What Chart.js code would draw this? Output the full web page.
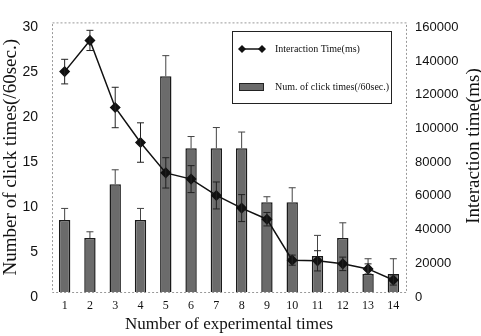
<!DOCTYPE html>
<html>
<head>
<meta charset="utf-8">
<script src="https://cdn.jsdelivr.net/npm/chart.js@4"></script>
<style>
  body { margin: 0; background: #fff; }
  canvas { display: block; }
</style>
</head>
<body>
<canvas id="chart" width="481" height="336"></canvas>
<script>
// data
const experiments = ['1', '2', '3', '4', '5', '6', '7', '8', '9', '10', '11', '12', '13', '14'];
const clickTimes = [8, 6, 12, 8, 24, 16, 16, 16, 10, 10, 4, 6, 2, 2];
const clickErr = [1.3, 0.7, 1.6, 1.3, 2.3, 1.3, 2.3, 1.8, 0.6, 1.6, 2.3, 1.7, 1.7, 1.7];
const interactionTime = [130800, 149300, 109500, 88700, 70700, 67000, 57300, 49800, 43200, 18900, 18500, 16700, 13700, 7100];
const interactionErr = [7300, 6000, 12000, 11700, 9000, 8000, 8000, 8000, 4000, 3000, 6000, 4000, 3000, 3000];
const clickTicks = [0, 5, 10, 15, 20, 25, 30];
const timeTicks = [0, 20000, 40000, 60000, 80000, 100000, 120000, 140000, 160000];

const serif = '"Liberation Serif", "DejaVu Serif", serif';
const sans = '"Liberation Sans", Arial, sans-serif';

// frame, error bars, legend box and right-hand title
const extras = {
  id: 'extras',
  afterDatasetsDraw(chart) {
    const ctx = chart.ctx;
    const x = chart.scales.x;
    const yL = chart.scales.y;
    const yR = chart.scales.y1;

    ctx.save();
    // bar whiskers (upper only)
    ctx.strokeStyle = '#444';
    ctx.lineWidth = 1;
    clickTimes.forEach((v, i) => {
      const px = x.getPixelForValue(i);
      const top = yL.getPixelForValue(v + clickErr[i]);
      const base = yL.getPixelForValue(v);
      ctx.beginPath();
      ctx.moveTo(px, base);
      ctx.lineTo(px, top);
      ctx.moveTo(px - 3.5, top);
      ctx.lineTo(px + 3.5, top);
      ctx.stroke();
    });
    // line whiskers
    ctx.strokeStyle = '#222';
    interactionTime.forEach((v, i) => {
      const px = x.getPixelForValue(i);
      const hi = yR.getPixelForValue(v + interactionErr[i]);
      const lo = yR.getPixelForValue(v - interactionErr[i]);
      ctx.beginPath();
      ctx.moveTo(px, hi);
      ctx.lineTo(px, lo);
      ctx.moveTo(px - 3.5, hi);
      ctx.lineTo(px + 3.5, hi);
      ctx.moveTo(px - 3.5, lo);
      ctx.lineTo(px + 3.5, lo);
      ctx.stroke();
    });
    ctx.restore();
  },
  afterDraw(chart) {
    const ctx = chart.ctx;
    const a = chart.chartArea;
    ctx.save();
    // dotted frame
    ctx.strokeStyle = '#999';
    ctx.lineWidth = 1;
    ctx.setLineDash([2, 2]);
    ctx.strokeRect(a.left + 0.5, a.top + 0.5, a.right - a.left, a.bottom - a.top);
    ctx.setLineDash([]);

    // legend
    const lx = 232, ly = 31, lw = 159, lh = 72;
    ctx.fillStyle = '#fff';
    ctx.fillRect(lx, ly, lw, lh);
    ctx.strokeStyle = '#222';
    ctx.strokeRect(lx + 0.5, ly + 0.5, lw, lh);

    const r1 = ly + 18;
    ctx.strokeStyle = '#111';
    ctx.lineWidth = 1.5;
    ctx.beginPath();
    ctx.moveTo(242, r1);
    ctx.lineTo(262, r1);
    ctx.stroke();
    ctx.fillStyle = '#111';
    [242, 262].forEach(cx => {
      ctx.beginPath();
      ctx.moveTo(cx, r1 - 4);
      ctx.lineTo(cx + 4, r1);
      ctx.lineTo(cx, r1 + 4);
      ctx.lineTo(cx - 4, r1);
      ctx.closePath();
      ctx.fill();
    });

    const r2 = ly + 56;
    ctx.fillStyle = '#6b6b6b';
    ctx.fillRect(239, r2 - 4, 25, 8);
    ctx.strokeStyle = '#222';
    ctx.lineWidth = 1;
    ctx.strokeRect(239.5, r2 - 3.5, 24, 7);

    ctx.fillStyle = '#111';
    ctx.font = '10px ' + serif;
    ctx.textBaseline = 'middle';
    ctx.textAlign = 'left';
    ctx.fillText('Interaction Time(ms)', 275, r1);
    ctx.fillText('Num. of click times(/60sec.)', 275, r2);

    // right axis title, reading bottom to top
    ctx.translate(474, 146);
    ctx.rotate(-Math.PI / 2);
    ctx.textAlign = 'center';
    ctx.font = '19px ' + serif;
    ctx.fillText('Interaction time(ms)', 0, 0);
    ctx.restore();
  }
};

const whiteBg = {
  id: 'whiteBg',
  beforeDraw(chart) {
    const ctx = chart.ctx;
    ctx.save();
    ctx.fillStyle = '#fff';
    ctx.fillRect(0, 0, chart.width, chart.height);
    ctx.restore();
  }
};

new Chart(document.getElementById('chart'), {
  data: {
    labels: experiments,
    datasets: [
      {
        type: 'line',
        label: 'Interaction Time(ms)',
        data: interactionTime,
        yAxisID: 'y1',
        borderColor: '#111',
        borderWidth: 1.5,
        pointStyle: 'rectRot',
        pointRadius: 4.5,
        pointBackgroundColor: '#111',
        pointBorderColor: '#111',
        tension: 0,
        order: 1
      },
      {
        type: 'bar',
        label: 'Num. of click times(/60sec.)',
        data: clickTimes,
        yAxisID: 'y',
        backgroundColor: '#6b6b6b',
        borderColor: '#1a1a1a',
        borderWidth: 1.5,
        barPercentage: 0.45,
        categoryPercentage: 1,
        order: 2
      }
    ]
  },
  options: {
    responsive: false,
    animation: false,
    layout: { autoPadding: false, padding: { top: 7, left: 0, right: 0, bottom: 0 } },
    plugins: {
      legend: { display: false },
      tooltip: { enabled: false }
    },
    scales: {
      x: {
        offset: true,
        grid: { display: false, drawTicks: false },
        border: { display: false },
        ticks: { color: '#111', padding: 7, font: { family: serif, size: 12 } },
        title: {
          display: true,
          text: 'Number of experimental times',
          color: '#111',
          padding: { top: 0, bottom: 1 },
          font: { family: serif, size: 17 }
        },
        afterFit(scale) { scale.height = 44; }
      },
      y: {
        position: 'left',
        min: 0,
        max: 30,
        afterBuildTicks(scale) { scale.ticks = clickTicks.map(v => ({ value: v })); },
        grid: { display: false, drawTicks: false },
        border: { display: false },
        ticks: {
          color: '#111', padding: 14, labelOffset: 5,
          font: { family: sans, size: 14 },
          callback: v => String(v)
        },
        title: {
          display: true,
          text: 'Number of click times(/60sec.)',
          color: '#111',
          padding: 0,
          font: { family: serif, size: 19 }
        },
        afterFit(scale) { scale.width = 52; }
      },
      y1: {
        position: 'right',
        min: 0,
        max: 160000,
        afterBuildTicks(scale) { scale.ticks = timeTicks.map(v => ({ value: v })); },
        grid: { display: false, drawTicks: false },
        border: { display: false },
        ticks: {
          color: '#111', padding: 9, labelOffset: 5,
          font: { family: sans, size: 13 },
          callback: v => String(v)
        },
        afterFit(scale) { scale.width = 75; }
      }
    }
  },
  plugins: [whiteBg, extras]
});
</script>
</body>
</html>
